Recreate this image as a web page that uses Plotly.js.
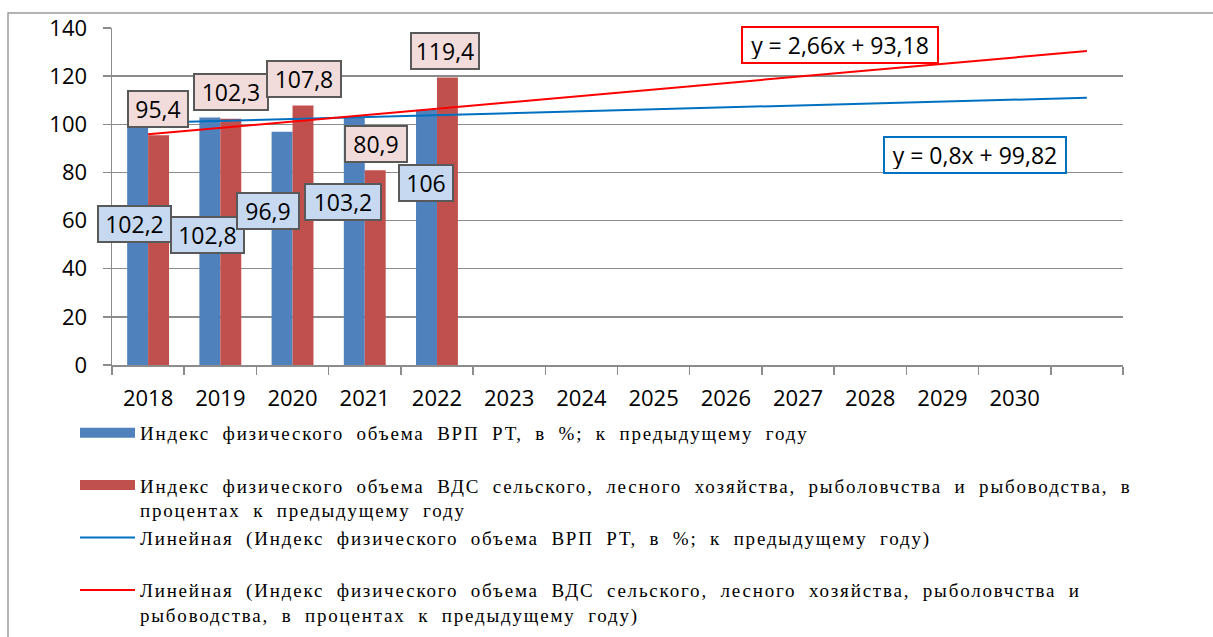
<!DOCTYPE html>
<html>
<head>
<meta charset="utf-8">
<script src="https://cdn.plot.ly/plotly-3.0.1.min.js"></script>
<style>
html,body{margin:0;padding:0;background:#fff;}
.legendtext{letter-spacing:1.8px;word-spacing:6px;}
</style>
</head>
<body>
<div id="chart" style="width:1213px;height:637px;"></div>
<script>
// ---- data ----
const years = ['2018','2019','2020','2021','2022','2023','2024','2025','2026','2027','2028','2029','2030'];
const vrpIndex = [102.2, 102.8, 96.9, 103.2, 106];
const vdsIndex = [95.4, 102.3, 107.8, 80.9, 119.4];
const vrpTrend = {slope: 0.8, intercept: 99.82};
const vdsTrend = {slope: 2.66, intercept: 93.18};
const trendSpan = [1, 14];
const names = [
  'Индекс физического объема ВРП РТ, в %; к предыдущему году',
  'Индекс физического объема ВДС сельского, лесного хозяйства, рыболовчства и рыбоводства, в<br>процентах к предыдущему году',
  'Линейная (Индекс физического объема ВРП РТ, в %; к предыдущему году)',
  'Линейная (Индекс физического объема ВДС сельского, лесного хозяйства, рыболовчства и<br>рыбоводства, в процентах к предыдущему году)'
];
// label placement (y in data units, x shift in px) and box sizes (px)
const vrpLabelY = [58.6, 54, 64, 67.7, 75.6];
const vrpLabelDX = [-14, -13, -25, -22, -11];
const vrpBoxW = [75, 75, 64, 78, 56];
const vdsLabelY = [106.4, 113.4, 118.8, 91.8, 130.5];
const vdsLabelDX = [10, 11, 11, 11, 8];
const vdsBoxW = [62, 76, 76, 64, 70];
const eqPos = {vds: [10.58, 132.9], vrp: [12.45, 87.4]};
const eqBoxW = {vds: 198, vrp: 184};
const BOX_H = 38;

const fmt = v => String(v).replace('.', ',');
const idx = vrpIndex.map((_, i) => i + 1);
const lineAt = (t, x) => t.slope * x + t.intercept;

const FONT_NUM = 'Open Sans, sans-serif';
const FONT_LEG = 'Liberation Serif, Times New Roman, serif';
const BLUE = '#4f81bd', RED = '#c0504d';

const traces = [
  {type: 'bar', x: idx, y: vrpIndex, name: names[0], marker: {color: BLUE}, showlegend: false},
  {type: 'bar', x: idx, y: vdsIndex, name: names[1], marker: {color: RED}, showlegend: false},
  {type: 'scatter', mode: 'lines', x: trendSpan, y: trendSpan.map(x => lineAt(vrpTrend, x)),
   name: names[2] + '<br> ', legendrank: 3, line: {color: '#0070c0', width: 2}},
  {type: 'scatter', mode: 'lines', x: trendSpan, y: trendSpan.map(x => lineAt(vdsTrend, x)),
   name: names[3], legendrank: 4, line: {color: '#ff0000', width: 2}},
  // legend entries for the bar series (wide flat swatches as in the original)
  {type: 'scatter', mode: 'lines', x: [null], y: [null], name: names[0] + '<br> ', legendrank: 1,
   line: {color: BLUE, width: 10}, hoverinfo: 'skip'},
  {type: 'scatter', mode: 'lines', x: [null], y: [null], name: names[1], legendrank: 2,
   line: {color: RED, width: 10}, hoverinfo: 'skip'}
];

const boxed = (x, y, dx, text, bg, border, w) => ({
  x: x, y: y, xref: 'x', yref: 'y', xshift: dx, text: text, showarrow: false,
  font: {family: FONT_NUM, size: 23, color: '#000'},
  bgcolor: bg, bordercolor: border, borderwidth: 2, borderpad: 3,
  width: w - 10, height: BOX_H - 10, align: 'center', valign: 'middle'
});
const annotations = [];
vrpIndex.forEach((v, i) => annotations.push(boxed(idx[i], vrpLabelY[i], vrpLabelDX[i], fmt(v), '#c6d9f1', '#595959', vrpBoxW[i])));
vdsIndex.forEach((v, i) => annotations.push(boxed(idx[i], vdsLabelY[i], vdsLabelDX[i], fmt(v), '#f2dcdb', '#595959', vdsBoxW[i])));
annotations.push(boxed(eqPos.vds[0], eqPos.vds[1], 0,
  'y = ' + fmt(vdsTrend.slope) + 'x + ' + fmt(vdsTrend.intercept), '#fff', '#ff0000', eqBoxW.vds));
annotations.push(boxed(eqPos.vrp[0], eqPos.vrp[1], 0,
  'y = ' + fmt(vrpTrend.slope) + 'x + ' + fmt(vrpTrend.intercept), '#fff', '#0070c0', eqBoxW.vrp));

const grid = '#8c8c8c';
const layout = {
  width: 1213, height: 637,
  margin: {l: 112, r: 90, t: 28, b: 272, autoexpand: false},
  paper_bgcolor: '#fff', plot_bgcolor: '#fff',
  barmode: 'group', bargap: 0.42, bargroupgap: 0,
  showlegend: true,
  xaxis: {
    range: [0.5, 14.5], tickmode: 'array', tickvals: years.map((_, i) => i + 1), ticktext: years,
    ticks: '', showgrid: false, zeroline: false, showline: true, linecolor: grid, linewidth: 1.5,
    tickfont: {family: FONT_NUM, size: 22, color: '#000'}, ticklabelstandoff: 13,
    minor: {tickmode: 'linear', tick0: 0.5, dtick: 1, ticks: 'outside', ticklen: 8, tickcolor: grid, tickwidth: 1.5, showgrid: false},
    fixedrange: true
  },
  yaxis: {
    range: [0, 140], tickmode: 'linear', tick0: 0, dtick: 20,
    showgrid: true, gridcolor: grid, gridwidth: 1.5, zeroline: false,
    showline: true, linecolor: grid, linewidth: 1.5,
    ticks: 'outside', ticklen: 8, tickcolor: grid, tickwidth: 1.5,
    tickfont: {family: FONT_NUM, size: 22, color: '#000'}, ticklabelstandoff: 11,
    fixedrange: true
  },
  legend: {
    x: (75 - 112) / 1011, xanchor: 'left', y: -0.145, yanchor: 'top', orientation: 'v',
    valign: 'top', itemwidth: 55, traceorder: 'normal', bgcolor: 'rgba(0,0,0,0)',
    font: {family: FONT_LEG, size: 19, color: '#000'}, tracegroupgap: 0
  },
  annotations: annotations,
  shapes: [{
    type: 'rect', xref: 'paper', yref: 'paper',
    x0: (8 - 112) / 1011, x1: (1240 - 112) / 1011, y0: -1, y1: (365 - 13) / 337,
    line: {color: '#9a9a9a', width: 1.5}, fillcolor: 'rgba(0,0,0,0)', layer: 'below'
  }]
};

Plotly.newPlot('chart', traces, layout, {displayModeBar: false, staticPlot: true});
</script>
</body>
</html>
